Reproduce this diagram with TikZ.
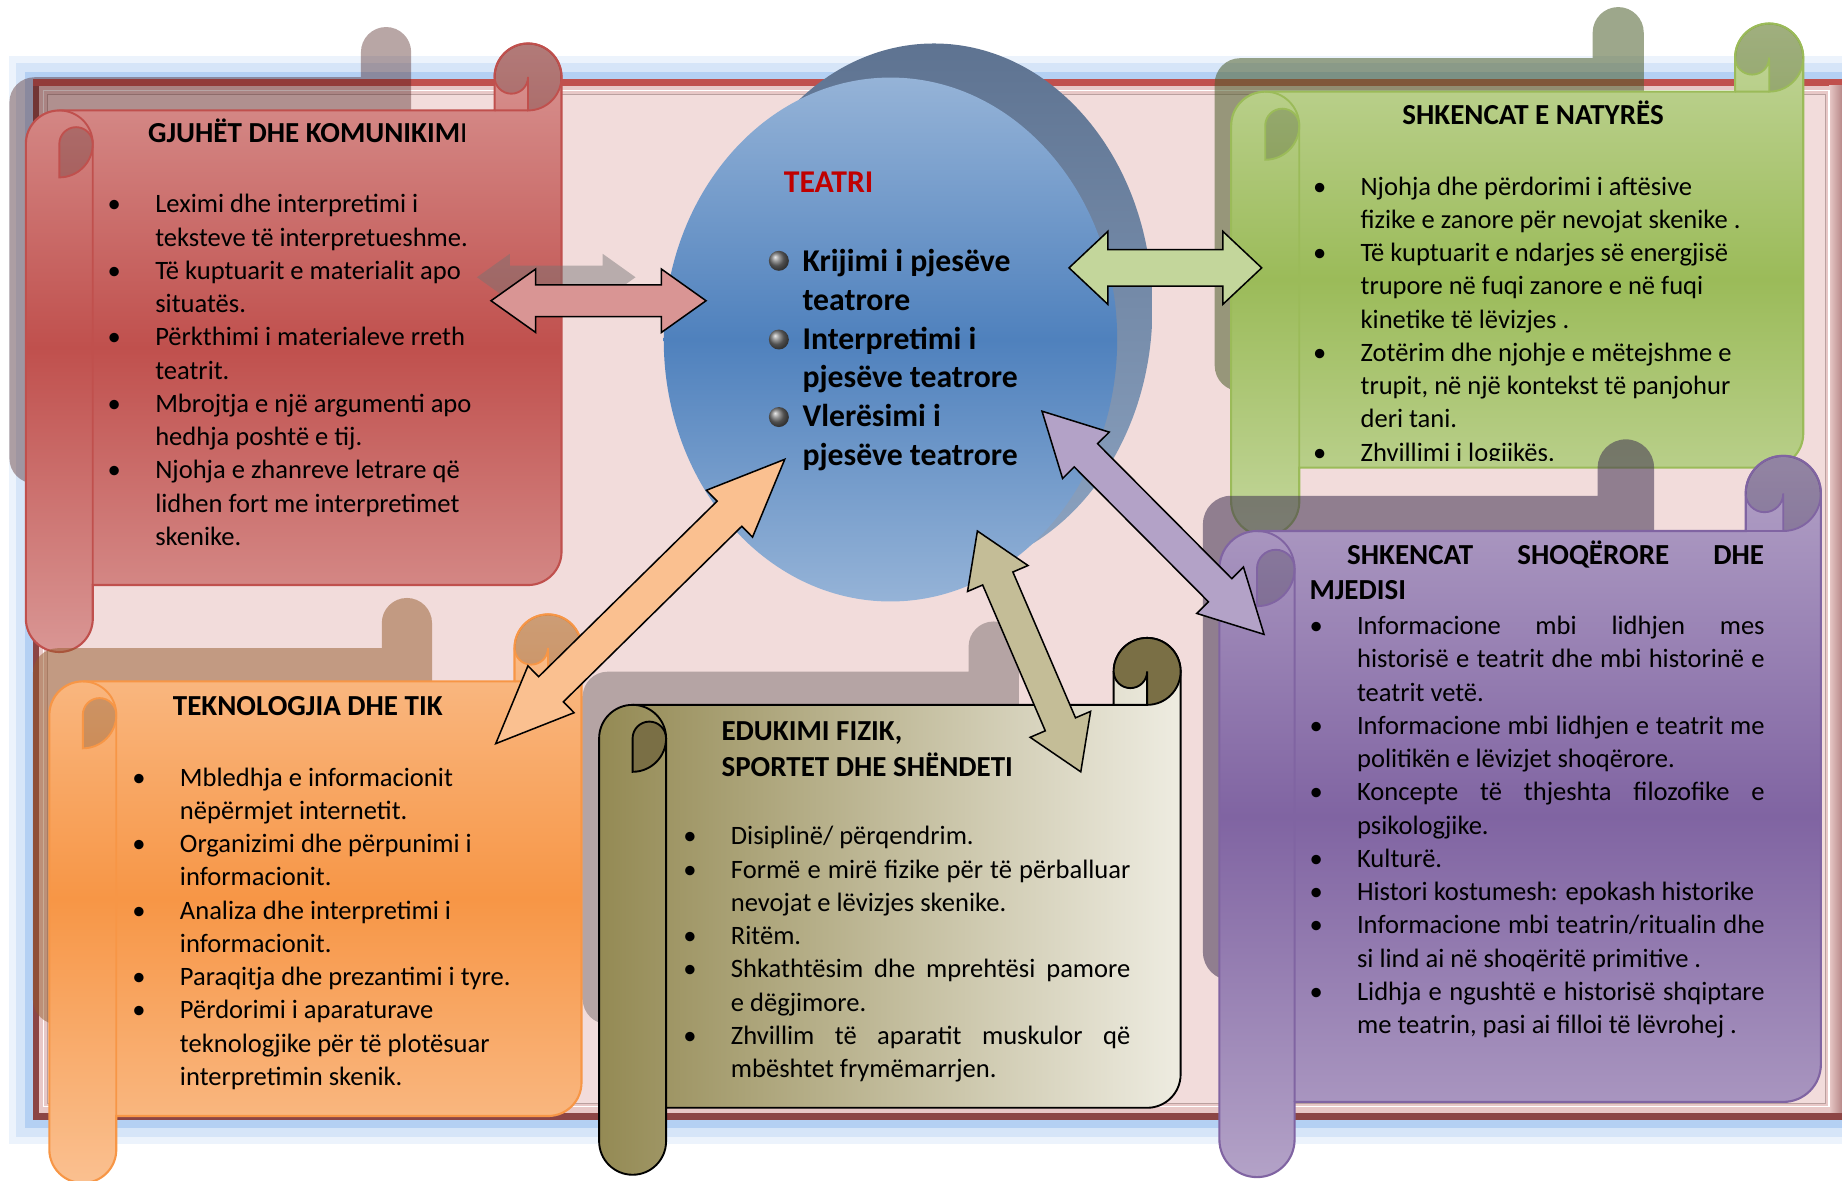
\documentclass[tikz,border=0pt]{standalone}
\usepackage{fontspec}
\setmainfont{Carlito}
\usetikzlibrary{calc,positioning,shapes.geometric}

\definecolor{bgpink}{HTML}{F2DCDB}
\definecolor{glowblue}{HTML}{B4D0F3}
\definecolor{framered}{HTML}{C0504D}
\definecolor{framedark}{HTML}{8C4545}
\definecolor{framebevel}{HTML}{E8C8C7}
\definecolor{redlight}{HTML}{D99694}
\definecolor{reddark}{HTML}{C0504D}
\definecolor{greenlight}{HTML}{C3D69B}
\definecolor{greendark}{HTML}{9BBB59}
\definecolor{purplelight}{HTML}{B3A2C7}
\definecolor{purpledark}{HTML}{8064A2}
\definecolor{orangelight}{HTML}{FAC090}
\definecolor{orangedark}{HTML}{F79646}
\definecolor{olivedark}{HTML}{948A54}
\definecolor{olivelight}{HTML}{EEECE1}
\definecolor{olivecurl}{HTML}{7A6F45}
\definecolor{bluelight}{HTML}{95B3D7}
\definecolor{bluedark}{HTML}{4F81BD}
\definecolor{slatedark}{HTML}{5E7391}
\definecolor{slatelight}{HTML}{8DA4C2}
\definecolor{teatrired}{HTML}{C00000}
\definecolor{arrowred}{HTML}{D99594}
\definecolor{arrowgreen}{HTML}{C3D69B}
\definecolor{arroworange}{HTML}{FAC090}
\definecolor{arrowpurple}{HTML}{B3A2C7}
\definecolor{arrowkhaki}{HTML}{C4BD97}

% scroll: left, top, right, bottom, roll size, options
\newcommand{\scrollshape}[6]{%
  \path[#6] (#1,#2+1.5*#5) arc[start angle=180,end angle=270,radius=#5/2]
    -- (#3-#5,#2+#5) -- (#3-#5,#2+#5/2) arc[start angle=180,end angle=360,radius=#5/2]
    -- (#3,#4-1.5*#5) arc[start angle=0,end angle=90,radius=#5/2]
    -- (#1+#5,#4-#5) -- (#1+#5,#4-#5/2) arc[start angle=0,end angle=180,radius=#5/2]
    -- cycle;}
\newcommand{\scrollcurls}[6]{%
  \path[#6] (#1+#5/2,#2+2*#5) arc[start angle=90,end angle=0,radius=#5/2]
    arc[start angle=0,end angle=-180,radius=#5/4] -- cycle;
  \path[#6] (#3-#5/2,#2+#5) arc[start angle=90,end angle=-180,radius=#5/2]
    arc[start angle=180,end angle=0,radius=#5/4] -- cycle;
  \path[#6,fill=none] (#1+#5/2,#2+#5) arc[start angle=270,end angle=360,radius=#5/2]
    -- (#1+#5,#4-#5)
    (#3-#5,#2+#5) -- (#3-#5/2,#2+#5);}
\newcommand{\scrollshadow}[6]{%
  \pgfmathsetmacro{\shl}{#1-14}\pgfmathsetmacro{\sht}{#2-14}%
  \pgfmathsetmacro{\shr}{#1-14+0.75*(#3-#1)}\pgfmathsetmacro{\shb}{#2-14+0.75*(#4-#2)}%
  \pgfmathsetmacro{\shc}{0.75*#5}%
  \scrollshape{\shl}{\sht}{\shr}{\shb}{\shc}{#6}}
% block double arrow: from, to, head length, head half width, shaft half width, options
\newcommand{\fatarrow}[6]{%
  \path[#6] (#1) -- ($(#1)!#3pt!(#2)!#4pt!90:(#2)$) -- ($(#1)!#3pt!(#2)!#5pt!90:(#2)$)
    -- ($(#2)!#3pt!(#1)!#5pt!-90:(#1)$) -- ($(#2)!#3pt!(#1)!#4pt!-90:(#1)$) -- (#2)
    -- ($(#2)!#3pt!(#1)!#4pt!90:(#1)$) -- ($(#2)!#3pt!(#1)!#5pt!90:(#1)$)
    -- ($(#1)!#3pt!(#2)!#5pt!-90:(#2)$) -- ($(#1)!#3pt!(#2)!#4pt!-90:(#2)$) -- cycle;}
\newcommand{\bl}{\rule{0pt}{21pt}\makebox[40.5pt][l]{\textbullet}}
\newcommand{\ind}{\hspace*{40.5pt}}

\begin{document}
\begin{tikzpicture}[x=1pt,y=-1pt,
    scrolltitle/.style={font=\fontsize{24.7}{30.5}\selectfont\bfseries,inner sep=0pt,align=left},
    scrolltext/.style={font=\fontsize{22.6}{28.3}\selectfont,inner sep=0pt,align=left,anchor=north west},
    teatritext/.style={font=\fontsize{27}{33}\selectfont\bfseries,inner sep=0pt,align=left,anchor=north west},
    bulletball/.style={circle,minimum size=17pt,inner sep=0pt,shading=ball,ball color=black!55},
    curl/.style={draw=#1,line width=1.6pt,fill=black,fill opacity=.18},
    redscroll/.style={draw=reddark,line width=1.8pt,top color=redlight,bottom color=redlight,middle color=reddark},
    greenscroll/.style={draw=greendark,line width=1.8pt,top color=greenlight,bottom color=greenlight,middle color=greendark},
    purplescroll/.style={draw=purpledark,line width=1.8pt,top color=purplelight,bottom color=purplelight,middle color=purpledark},
    orangescroll/.style={draw=orangedark,line width=1.8pt,top color=orangelight,bottom color=orangelight,middle color=orangedark},
    olivescroll/.style={draw=black,line width=1.6pt,left color=olivedark,right color=olivelight},
    blockarrow/.style={draw=black,line width=1.3pt,fill=#1}]

  \useasboundingbox (0,0) rectangle (1568,1005);

  % frame
  \fill[glowblue!25] (8,48) rectangle (1600,974);
  \fill[glowblue!55] (14,54) rectangle (1600,968);
  \fill[glowblue] (21,61) rectangle (1600,960);
  \fill[framedark] (28,67) rectangle (1600,953);
  \fill[framered] (28,67) rectangle (1600,73);
  \fill[framebevel] (33,73) rectangle (1600,947);
  \shade[left color=framebevel,right color=framedark!70] (1557,73) rectangle (1570,947);
  \fill[bgpink] (40,80) rectangle (1554,939);
  \draw[white,line width=1.2pt] (37,77) rectangle (1557,942);
  \draw[framebevel!80!black,line width=.8pt] (40,80) rectangle (1554,939);

  % gjuhet
  \scrollshadow{22}{37}{478}{555}{57}{fill=reddark!40!black,fill opacity=.4}
  \scrollshape{22}{37}{478}{555}{57}{redscroll}
  \scrollcurls{22}{37}{478}{555}{57}{curl=reddark}
  \node[scrolltitle,anchor=base] (langtitle) at (262,121) {GJUHËT DHE KOMUNIKIM{\mdseries I}};
  \node[scrolltext] (langtext) at (91.5,160) {\bl Leximi dhe interpretimi i\\
    \ind teksteve të interpretueshme.\\
    \bl Të kuptuarit e materialit apo\\
    \ind situatës.\\
    \bl Përkthimi i materialeve rreth\\
    \ind teatrit.\\
    \bl Mbrojtja e një argumenti apo\\
    \ind hedhja poshtë e tij.\\
    \bl Njohja e zhanreve letrare që\\
    \ind lidhen fort me interpretimet\\
    \ind skenike.};

  % natyra
  \scrollshadow{1048}{20}{1535}{456}{58}{fill=greendark!50!black,fill opacity=.55}
  \scrollshape{1048}{20}{1535}{456}{58}{greenscroll}
  \scrollcurls{1048}{20}{1535}{456}{58}{curl=greendark}
  \node[scrolltitle,anchor=base] (naturetitle) at (1305,106) {SHKENCAT E NATYRËS};
  \begin{scope}
    \clip (1040,100) rectangle (1540,392);
    \node[scrolltext] (naturetext) at (1117.5,145) {\bl Njohja dhe përdorimi i aftësive\\
      \ind fizike e zanore për nevojat skenike .\\
      \bl Të kuptuarit e ndarjes së energjisë\\
      \ind trupore në fuqi zanore e në fuqi\\
      \ind kinetike të lëvizjes .\\
      \bl Zotërim dhe njohje e mëtejshme e\\
      \ind trupit, në një kontekst të panjohur\\
      \ind deri tani.\\
      \bl Zhvillimi i logjikës.};
  \end{scope}

  % shoqerore
  \scrollshadow{1038}{388}{1550}{1002}{64}{fill=purpledark!50!black,fill opacity=.55}
  \scrollshape{1038}{388}{1550}{1002}{64}{purplescroll}
  \scrollcurls{1038}{388}{1550}{1002}{64}{curl=purpledark}
  \node[scrolltitle,anchor=north west] (socialtitle) at (1114.5,458)
    {\rule{0pt}{22pt}\hspace*{32pt}\makebox[355pt][s]{SHKENCAT SHOQËRORE DHE}\\MJEDISI};
  \node[scrolltext] (socialtext) at (1114.5,519) {\bl \makebox[347pt][s]{Informacione mbi lidhjen mes}\\
    \ind \makebox[347pt][s]{historisë e teatrit dhe mbi historinë e}\\
    \ind teatrit vetë.\\
    \bl \makebox[347pt][s]{Informacione mbi lidhjen e teatrit me}\\
    \ind politikën e lëvizjet shoqërore.\\
    \bl \makebox[347pt][s]{Koncepte të thjeshta filozofike e}\\
    \ind psikologjike.\\
    \bl Kulturë.\\
    \bl Histori kostumesh: epokash historike\\
    \bl \makebox[347pt][s]{Informacione mbi teatrin/ritualin dhe}\\
    \ind si lind ai në shoqëritë primitive .\\
    \bl \makebox[347pt][s]{Lidhja e ngushtë e historisë shqiptare}\\
    \ind me teatrin, pasi ai filloi të lëvrohej .};

  % teknologjia
  \scrollshadow{42}{523}{495}{1007}{57}{fill=orangedark!60!black,fill opacity=.5}
  \scrollshape{42}{523}{495}{1007}{57}{orangescroll}
  \scrollcurls{42}{523}{495}{1007}{57}{curl=orangedark}
  \node[scrolltitle,anchor=base] (techtitle) at (262,609) {TEKNOLOGJIA DHE TIK};
  \node[scrolltext] (techtext) at (112.5,648) {\bl Mbledhja e informacionit\\
    \ind nëpërmjet internetit.\\
    \bl Organizimi dhe përpunimi i\\
    \ind informacionit.\\
    \bl Analiza dhe interpretimi i\\
    \ind informacionit.\\
    \bl Paraqitja dhe prezantimi i tyre.\\
    \bl Përdorimi i aparaturave\\
    \ind teknologjike për të plotësuar\\
    \ind interpretimin skenik.};

  % edukimi fizik
  \scrollshadow{510}{543}{1005}{1000}{57}{fill=black,fill opacity=.25}
  \scrollshape{510}{543}{1005}{1000}{57}{olivescroll}
  \scrollcurls{510}{543}{1005}{1000}{57}{draw=black,line width=1.6pt,fill=olivecurl}
  \node[scrolltitle,anchor=north west] (sporttitle) at (614,608)
    {\rule{0pt}{22pt}EDUKIMI FIZIK,\\SPORTET DHE SHËNDETI};
  \node[scrolltext] (sporttext) at (581.5,698) {\bl Disiplinë/ përqendrim.\\
    \bl \makebox[340pt][s]{Formë e mirë fizike për të përballuar}\\
    \ind nevojat e lëvizjes skenike.\\
    \bl Ritëm.\\
    \bl \makebox[340pt][s]{Shkathtësim dhe mprehtësi pamore}\\
    \ind e dëgjimore.\\
    \bl \makebox[340pt][s]{Zhvillim të aparatit muskulor që}\\
    \ind mbështet frymëmarrjen.};

  % teatri
  \node[ellipse,minimum width=372pt,minimum height=450pt,inner sep=0pt,
        top color=slatedark,bottom color=slatelight] (teatrishadow) at (795,262) {};
  \node[ellipse,minimum width=386pt,minimum height=446pt,inner sep=0pt,
        top color=bluelight,bottom color=bluelight,middle color=bluedark] (teatri) at (758,289) {};
  \node[font=\fontsize{27}{33}\selectfont\bfseries,text=teatrired,anchor=base west,inner sep=0pt]
    (teatrititle) at (667,164) {TEATRI};
  \node[teatritext] (teatrilist) at (683,206) {\rule{0pt}{25pt}Krijimi i pjesëve\\teatrore\\
    Interpretimi i\\pjesëve teatrore\\Vlerësimi i\\pjesëve teatrore};
  \node[bulletball] (ball1) at (663,222) {};
  \node[bulletball] (ball2) at (663,289) {};
  \node[bulletball] (ball3) at (663,355) {};

  % arrows
  \coordinate (ghostA) at (406,236);
  \coordinate (ghostB) at (541,236);
  \coordinate (langA) at (418,256);
  \coordinate (langB) at (601,256);
  \coordinate (natureA) at (910,228);
  \coordinate (natureB) at (1074,228);
  \coordinate (techA) at (668,391);
  \coordinate (techB) at (422,633);
  \coordinate (socialA) at (887,350);
  \coordinate (socialB) at (1076,540);
  \coordinate (sportA) at (832,452);
  \coordinate (sportB) at (920,657);

  \fatarrow{ghostA}{ghostB}{28}{20}{10}{fill=black!55,fill opacity=.45}
  \fatarrow{langA}{langB}{38}{27}{13.5}{blockarrow=arrowred}
  \fatarrow{natureA}{natureB}{33}{31}{15.5}{blockarrow=arrowgreen}
  \fatarrow{techA}{techB}{66}{28}{15}{blockarrow=arroworange}
  \fatarrow{socialA}{socialB}{53}{28}{14}{blockarrow=arrowpurple}
  \fatarrow{sportA}{sportB}{44}{28}{14}{blockarrow=arrowkhaki}

\end{tikzpicture}
\end{document}
